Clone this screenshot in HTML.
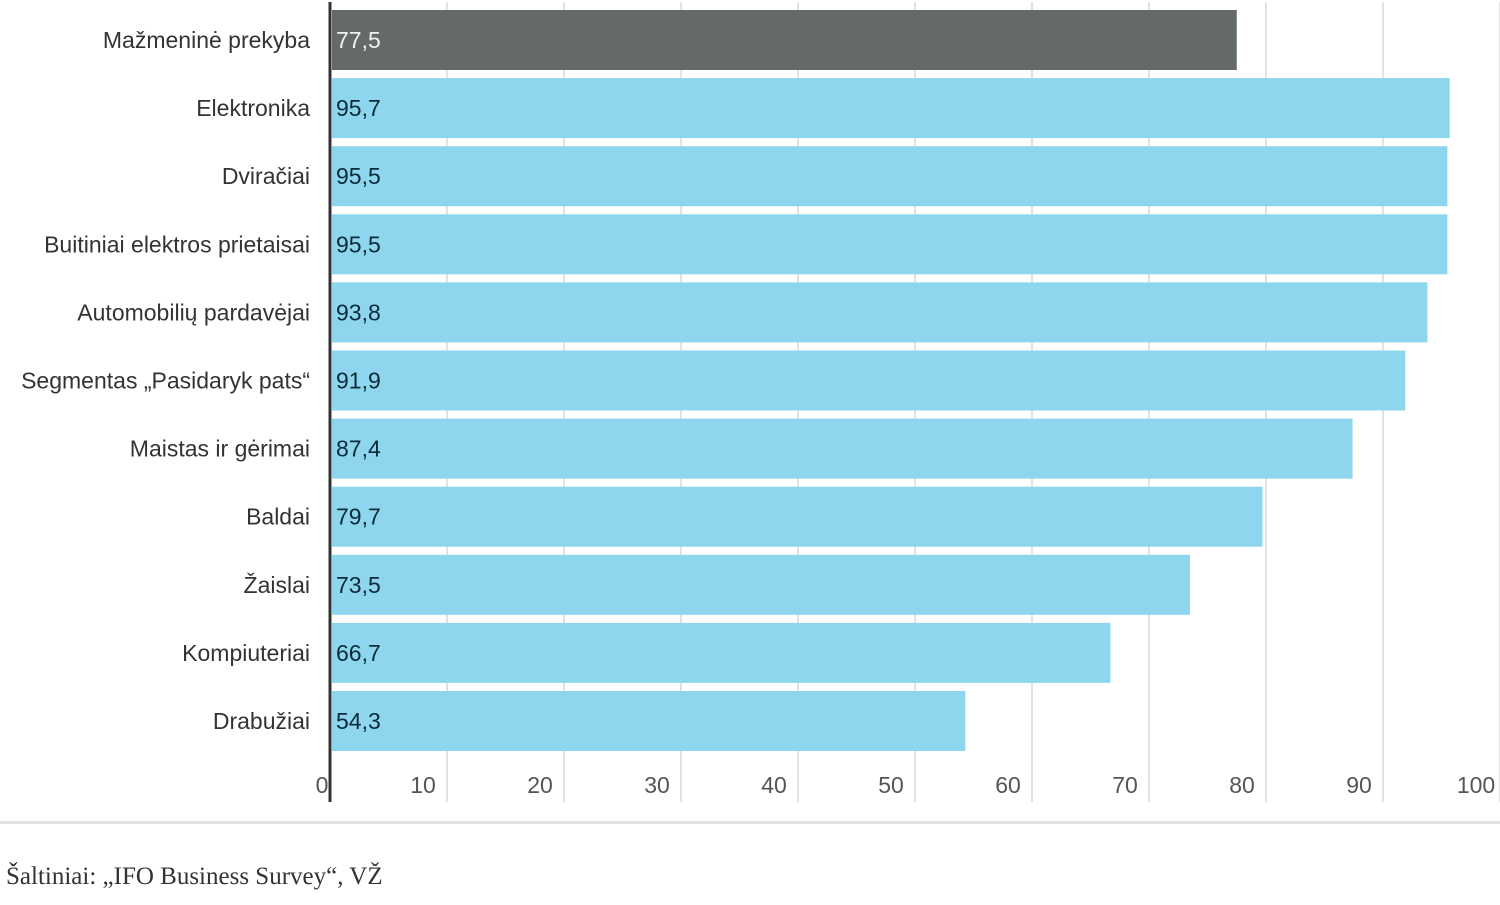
<!DOCTYPE html>
<html><head><meta charset="utf-8"><style>
body{margin:0;background:#fff;width:1500px;height:900px;overflow:hidden;font-family:"Liberation Sans",sans-serif}
</style></head><body>
<svg id="chart" width="1500" height="900" xmlns="http://www.w3.org/2000/svg">
<g id="grid"></g><g id="bars"></g><g id="labels"></g>
<line x1="330" y1="2" x2="330" y2="802" stroke="#333" stroke-width="3"/>
<rect x="0" y="821" width="1500" height="3" fill="#e4e4e4"/>
<text x="6" y="884" font-family="Liberation Serif, serif" font-size="25" fill="#333">Šaltiniai: „IFO Business Survey“, VŽ</text>
</svg>
<script>
const categories=["Mažmeninė prekyba","Elektronika","Dviračiai","Buitiniai elektros prietaisai","Automobilių pardavėjai","Segmentas „Pasidaryk pats“","Maistas ir gėrimai","Baldai","Žaislai","Kompiuteriai","Drabužiai"];
const values=[77.5,95.7,95.5,95.5,93.8,91.9,87.4,79.7,73.5,66.7,54.3];
const valueLabels=["77,5","95,7","95,5","95,5","93,8","91,9","87,4","79,7","73,5","66,7","54,3"];
const ticks=[0,10,20,30,40,50,60,70,80,90,100];
const NS="http://www.w3.org/2000/svg";
const x=v=>330+v*11.7;
const yc=i=>40+i*68.1;
function mk(t,a,p){const e=document.createElementNS(NS,t);for(const k in a)e.setAttribute(k,a[k]);p.appendChild(e);return e;}
const g=document.getElementById('grid'),b=document.getElementById('bars'),l=document.getElementById('labels');
ticks.forEach(t=>{
 if(t>0){const ln=mk('line',{x1:x(t),x2:x(t),y1:2,y2:802,stroke:'#e2e2e2','stroke-width':2},g);
 
 }
 const tx=mk('text',{x:x(t)-(t==0?8:24),y:793,'text-anchor':'middle','font-size':23,fill:'#555'},l);
 tx.textContent=t;
 
 
});
categories.forEach((c,i)=>{
 const r=mk('rect',{x:332,y:yc(i)-30,width:x(values[i])-332,height:60,fill:i==0?'#646a6a':'#8dd6ed'},b);
 
 
 const v=mk('text',{x:336,y:yc(i)+8,'font-size':23,fill:i==0?'#f0f0f0':'#0b2a3a'},l);
 v.textContent=valueLabels[i];
 
 
 const t=mk('text',{x:310,y:yc(i)+8,'text-anchor':'end','font-size':23,fill:'#333'},l);
 t.textContent=c;
 
 
});
</script>
</body></html>
